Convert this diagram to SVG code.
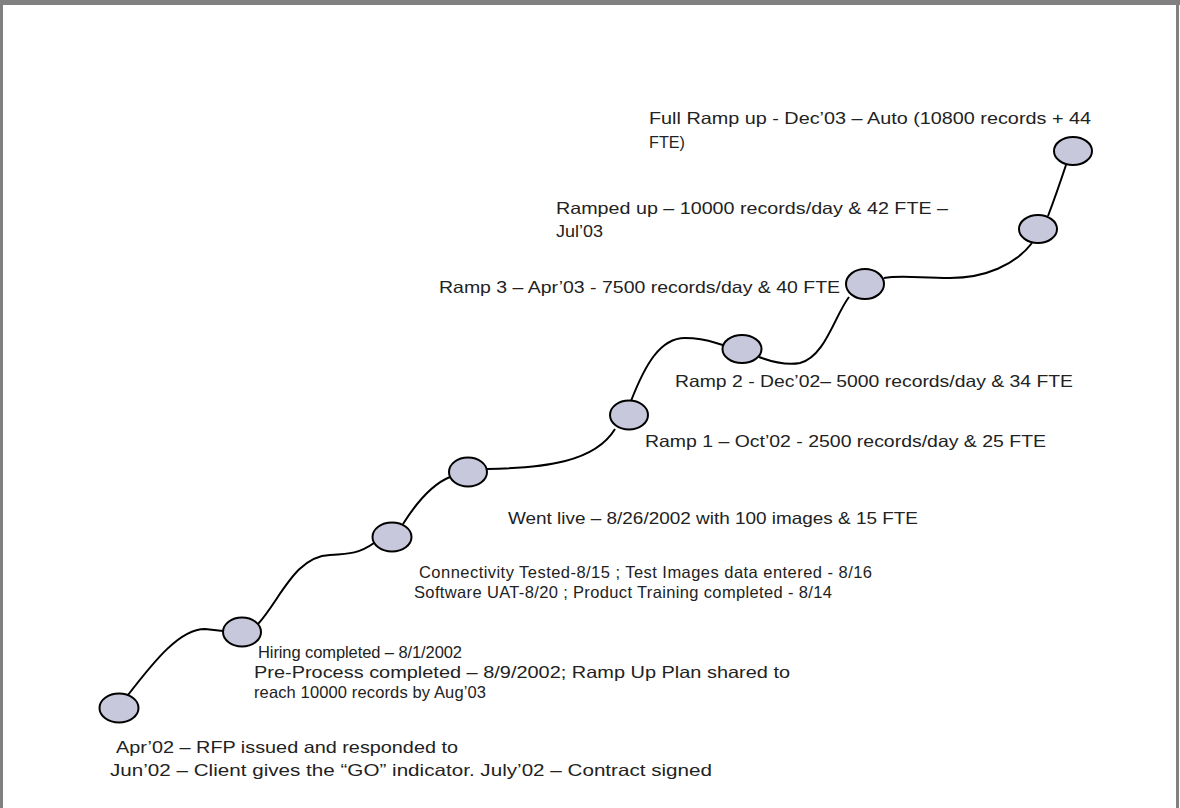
<svg xmlns="http://www.w3.org/2000/svg" width="1180" height="808" viewBox="0 0 1180 808">
<style>
.n{fill:#c8c8dc;stroke:#000;stroke-width:2}
.c{fill:none;stroke:#000;stroke-width:2}
text{font-family:"Liberation Sans",Arial,sans-serif;font-size:16.5px;fill:#222}
</style>
<rect x="0" y="0" width="1180" height="808" fill="#fff"/>
<rect x="1.5" y="2.5" width="1176" height="830" fill="none" stroke="#808080" stroke-width="3"/>
<rect x="0" y="0" width="1180" height="5" fill="#808080"/>
<g id="connectors">
<path class="c" d="M128,695 C155,660 180,629 205,629 L223,631"/>
<path class="c" d="M258,624 C280,600 295,556 330,555 C350,554 360,553 374,543"/>
<path class="c" d="M403,524 C415,505 430,485 450,477"/>
<path class="c" d="M487,469 C545,468 595,462 615,429"/>
<path class="c" d="M631,401 C645,365 660,338 685,338 C705,338 712,342 723,345"/>
<path class="c" d="M759,357 C775,363 790,365 800,363 C825,357 835,315 849,297"/>
<path class="c" d="M884,278 C900,275 920,278 950,278 C985,278 1015,265 1032,243"/>
<path class="c" d="M1048,216 Q1056,195 1066,165"/>
</g>
<g id="n1"><ellipse class="n" cx="119" cy="708" rx="19.5" ry="14.5"/>
<text x="116" y="753" textLength="342" lengthAdjust="spacingAndGlyphs">Apr’02 – RFP issued and responded to</text>
<text x="110" y="776" textLength="602" lengthAdjust="spacingAndGlyphs">Jun’02 – Client gives the “GO” indicator. July’02 – Contract signed</text></g>
<g id="n2"><ellipse class="n" cx="242" cy="632" rx="19" ry="14.5"/>
<text x="258" y="658" textLength="204" lengthAdjust="spacing">Hiring completed – 8/1/2002</text>
<text x="254" y="678" textLength="536" lengthAdjust="spacingAndGlyphs">Pre-Process completed – 8/9/2002; Ramp Up Plan shared to</text>
<text x="254" y="698" textLength="232" lengthAdjust="spacing">reach 10000 records by Aug’03</text></g>
<g id="n3"><ellipse class="n" cx="392" cy="537" rx="19.5" ry="14.5"/>
<text x="419" y="578" textLength="453" lengthAdjust="spacing">Connectivity Tested-8/15 ; Test Images data entered - 8/16</text>
<text x="414" y="598" textLength="418" lengthAdjust="spacing">Software UAT-8/20 ; Product Training completed - 8/14</text></g>
<g id="n4"><ellipse class="n" cx="468" cy="472" rx="19" ry="14.5"/>
<text x="508" y="524" textLength="410" lengthAdjust="spacingAndGlyphs">Went live – 8/26/2002 with 100 images &amp; 15 FTE</text></g>
<g id="n5"><ellipse class="n" cx="629" cy="415" rx="19" ry="14.5"/>
<text x="645" y="447" textLength="401" lengthAdjust="spacingAndGlyphs">Ramp 1 – Oct’02 - 2500 records/day &amp; 25 FTE</text></g>
<g id="n6"><ellipse class="n" cx="742" cy="349" rx="19.5" ry="14"/>
<text x="675" y="387" textLength="398" lengthAdjust="spacingAndGlyphs">Ramp 2 - Dec’02– 5000 records/day &amp; 34 FTE</text></g>
<g id="n7"><ellipse class="n" cx="865" cy="284" rx="19" ry="15"/>
<text x="439" y="293" textLength="401" lengthAdjust="spacingAndGlyphs">Ramp 3 – Apr’03 - 7500 records/day &amp; 40 FTE</text></g>
<g id="n8"><ellipse class="n" cx="1038" cy="229" rx="19" ry="14"/>
<text x="556" y="214" textLength="392" lengthAdjust="spacingAndGlyphs">Ramped up – 10000 records/day &amp; 42 FTE –</text>
<text x="556" y="237" textLength="47" lengthAdjust="spacingAndGlyphs">Jul’03</text></g>
<g id="n9"><ellipse class="n" cx="1073" cy="151" rx="19" ry="14"/>
<text x="649" y="124" textLength="442" lengthAdjust="spacingAndGlyphs">Full Ramp up - Dec’03 – Auto (10800 records + 44</text>
<text x="649" y="148" textLength="36" lengthAdjust="spacingAndGlyphs">FTE)</text></g>
</svg>
